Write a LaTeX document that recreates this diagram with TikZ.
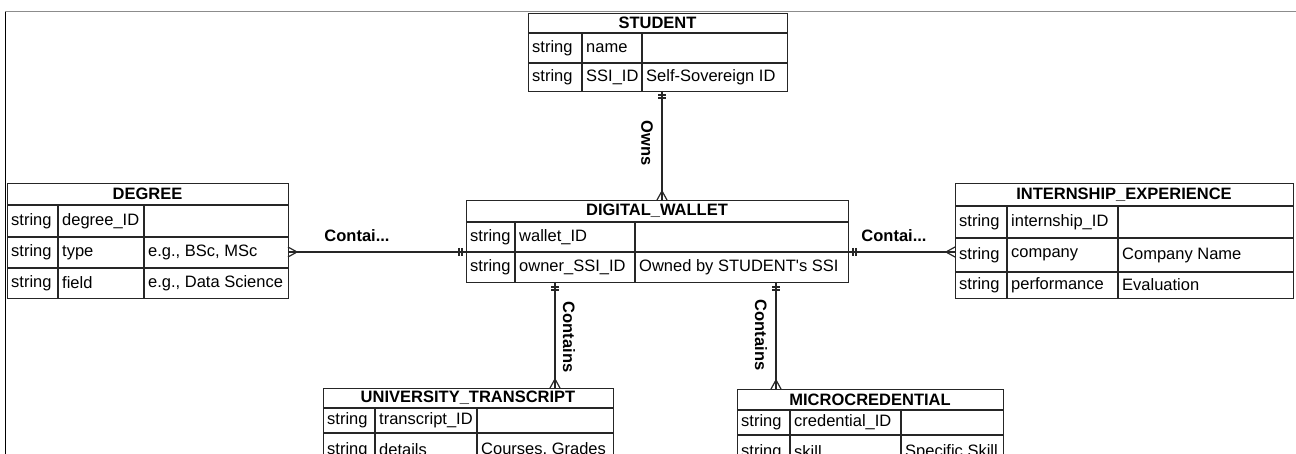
\documentclass[tikz,border=0pt]{standalone}
\usepackage{fontspec}
\setmainfont{Liberation Sans}
\usetikzlibrary{calc}
\begin{document}
\begin{tikzpicture}[x=1pt,y=-1pt,
  tbl/.style={draw=black!85, line width=1.3pt, inner sep=0pt, anchor=north west},
  grid/.style={draw=black!85, line width=1.3pt},
  txt/.style={anchor=west, inner sep=0pt, font=\fontsize{16.5}{19}\selectfont},
  ttl/.style={inner sep=0pt, font=\fontsize{16.5}{19}\selectfont\bfseries},
  lbl/.style={inner sep=0pt, font=\fontsize{16.5}{19}\selectfont\bfseries},
  conn/.style={draw=black!85, line width=1.2pt},
  ]
\useasboundingbox (0,0) rectangle (1296,454);
% frame
\draw[black!45, line width=1pt] (5,12) -- (1296,12);
\draw[black, line width=1pt] (5,12) -- (5,454);

% STUDENT
\node[tbl, minimum width=259pt, minimum height=78pt] (student) at (528,13) {};
\draw[grid] (528,33) -- (787,33) (528,63) -- (787,63) (582,33) -- (582,91) (642,33) -- (642,91);
\node[ttl] (studentT) at (657.5,23) {STUDENT};
\node[txt] (s11) at (532,48) {string};
\node[txt] (s12) at (586,48) {name};
\node[txt] (s21) at (532,77) {string};
\node[txt] (s22) at (586,77) {SSI\_ID};
\node[txt] (s23) at (646,77) {Self-Sovereign ID};

% DEGREE
\node[tbl, minimum width=281pt, minimum height=115pt] (degree) at (7,183) {};
\draw[grid] (7,205) -- (288,205) (7,237) -- (288,237) (7,268) -- (288,268) (58,205) -- (58,298) (144,205) -- (144,298);
\node[ttl] (degreeT) at (147.5,194) {DEGREE};
\node[txt] (d11) at (11,221) {string};
\node[txt] (d12) at (62,221) {degree\_ID};
\node[txt] (d21) at (11,252.5) {string};
\node[txt] (d22) at (62,252.5) {type};
\node[txt] (d23) at (148,252.5) {e.g., BSc, MSc};
\node[txt] (d31) at (11,283) {string};
\node[txt] (d32) at (62,283) {field};
\node[txt] (d33) at (148,283) {e.g., Data Science};

% DIGITAL_WALLET
\node[tbl, minimum width=382pt, minimum height=82pt] (wallet) at (466,200) {};
\draw[grid] (466,222) -- (848,222) (466,252) -- (848,252) (515,222) -- (515,282) (635,222) -- (635,282);
\node[ttl] (walletT) at (657,211) {DIGITAL\_WALLET};
\node[txt] (w11) at (470,237) {string};
\node[txt] (w12) at (519,237) {wallet\_ID};
\node[txt] (w21) at (470,267) {string};
\node[txt] (w22) at (519,267) {owner\_SSI\_ID};
\node[txt] (w23) at (639,267) {Owned by STUDENT\textquotesingle s SSI};

% INTERNSHIP_EXPERIENCE
\node[tbl, minimum width=338pt, minimum height=115pt] (intern) at (955,183) {};
\draw[grid] (955,206) -- (1293,206) (955,238) -- (1293,238) (955,272) -- (1293,272) (1007,206) -- (1007,298) (1118,206) -- (1118,298);
\node[ttl] (internT) at (1124,194.5) {INTERNSHIP\_EXPERIENCE};
\node[txt] (i11) at (959,222) {string};
\node[txt] (i12) at (1011,222) {internship\_ID};
\node[txt] (i21) at (959,255) {string};
\node[txt] (i22) at (1011,255) {company};
\node[txt] (i23) at (1122,255) {Company Name};
\node[txt] (i31) at (959,285) {string};
\node[txt] (i32) at (1011,285) {performance};
\node[txt] (i33) at (1122,285) {Evaluation};

% UNIVERSITY_TRANSCRIPT
\node[tbl, minimum width=290pt, minimum height=82pt] (transcript) at (323,388) {};
\draw[grid] (323,408) -- (613,408) (323,433) -- (613,433) (375,408) -- (375,470) (477,408) -- (477,470);
\node[ttl] (transcriptT) at (468,398) {UNIVERSITY\_TRANSCRIPT};
\node[txt] (t11) at (327,420.5) {string};
\node[txt] (t12) at (379,420.5) {transcript\_ID};
\node[txt] (t21) at (327,450) {string};
\node[txt] (t22) at (379,450) {details};
\node[txt] (t23) at (481,450) {Courses, Grades};

% MICROCREDENTIAL
\node[tbl, minimum width=266pt, minimum height=82pt] (micro) at (737,389) {};
\draw[grid] (737,410) -- (1003,410) (737,435) -- (1003,435) (790,410) -- (790,470) (901,410) -- (901,470);
\node[ttl] (microT) at (870,399.5) {MICROCREDENTIAL};
\node[txt] (m11) at (741,422.5) {string};
\node[txt] (m12) at (794,422.5) {credential\_ID};
\node[txt] (m21) at (741,452) {string};
\node[txt] (m22) at (794,452) {skill};
\node[txt] (m23) at (905,452) {Specific Skill};

% connector end points
\coordinate (sOwn) at (662,91);
\coordinate (wOwn) at (662,200);
\coordinate (dC) at (288,252);
\coordinate (wL) at (466,252);
\coordinate (wR) at (848,252);
\coordinate (iC) at (955,252);
\coordinate (wB1) at (555,282);
\coordinate (tC) at (555,388);
\coordinate (wB2) at (776,282);
\coordinate (mC) at (776,389);

% Owns
\draw[conn] (sOwn) -- (wOwn);
\draw[conn] ($(sOwn)+(-4,4)$) -- ($(sOwn)+(4,4)$) ($(sOwn)+(-4,7)$) -- ($(sOwn)+(4,7)$);
\draw[conn] ($(wOwn)+(-5,0)$) -- ($(wOwn)+(0,-9)$) -- ($(wOwn)+(5,0)$);
\node[lbl, rotate=-90] (lOwns) at (647,143) {Owns};

% DEGREE - WALLET
\draw[conn] (dC) -- (wL);
\draw[conn] ($(dC)+(0,-5)$) -- ($(dC)+(9,0)$) -- ($(dC)+(0,5)$);
\draw[conn] ($(wL)+(-7,-4)$) -- ($(wL)+(-7,4)$) ($(wL)+(-4,-4)$) -- ($(wL)+(-4,4)$);
\node[lbl] (lDeg) at (357,236) {Contai...};

% WALLET - INTERNSHIP
\draw[conn] (wR) -- (iC);
\draw[conn] ($(wR)+(5,-4)$) -- ($(wR)+(5,4)$) ($(wR)+(8,-4)$) -- ($(wR)+(8,4)$);
\draw[conn] ($(iC)+(0,-5)$) -- ($(iC)+(-9,0)$) -- ($(iC)+(0,5)$);
\node[lbl] (lInt) at (894,236) {Contai...};

% WALLET - TRANSCRIPT
\draw[conn] (wB1) -- (tC);
\draw[conn] ($(wB1)+(-4,5)$) -- ($(wB1)+(4,5)$) ($(wB1)+(-4,8)$) -- ($(wB1)+(4,8)$);
\draw[conn] ($(tC)+(-5,0)$) -- ($(tC)+(0,-9)$) -- ($(tC)+(5,0)$);
\node[lbl, rotate=-90] (lTr) at (569,337) {Contains};

% WALLET - MICRO
\draw[conn] (wB2) -- (mC);
\draw[conn] ($(wB2)+(-4,5)$) -- ($(wB2)+(4,5)$) ($(wB2)+(-4,8)$) -- ($(wB2)+(4,8)$);
\draw[conn] ($(mC)+(-5,0)$) -- ($(mC)+(0,-9)$) -- ($(mC)+(5,0)$);
\node[lbl, rotate=-90] (lMi) at (761,335) {Contains};
\end{tikzpicture}
\end{document}
